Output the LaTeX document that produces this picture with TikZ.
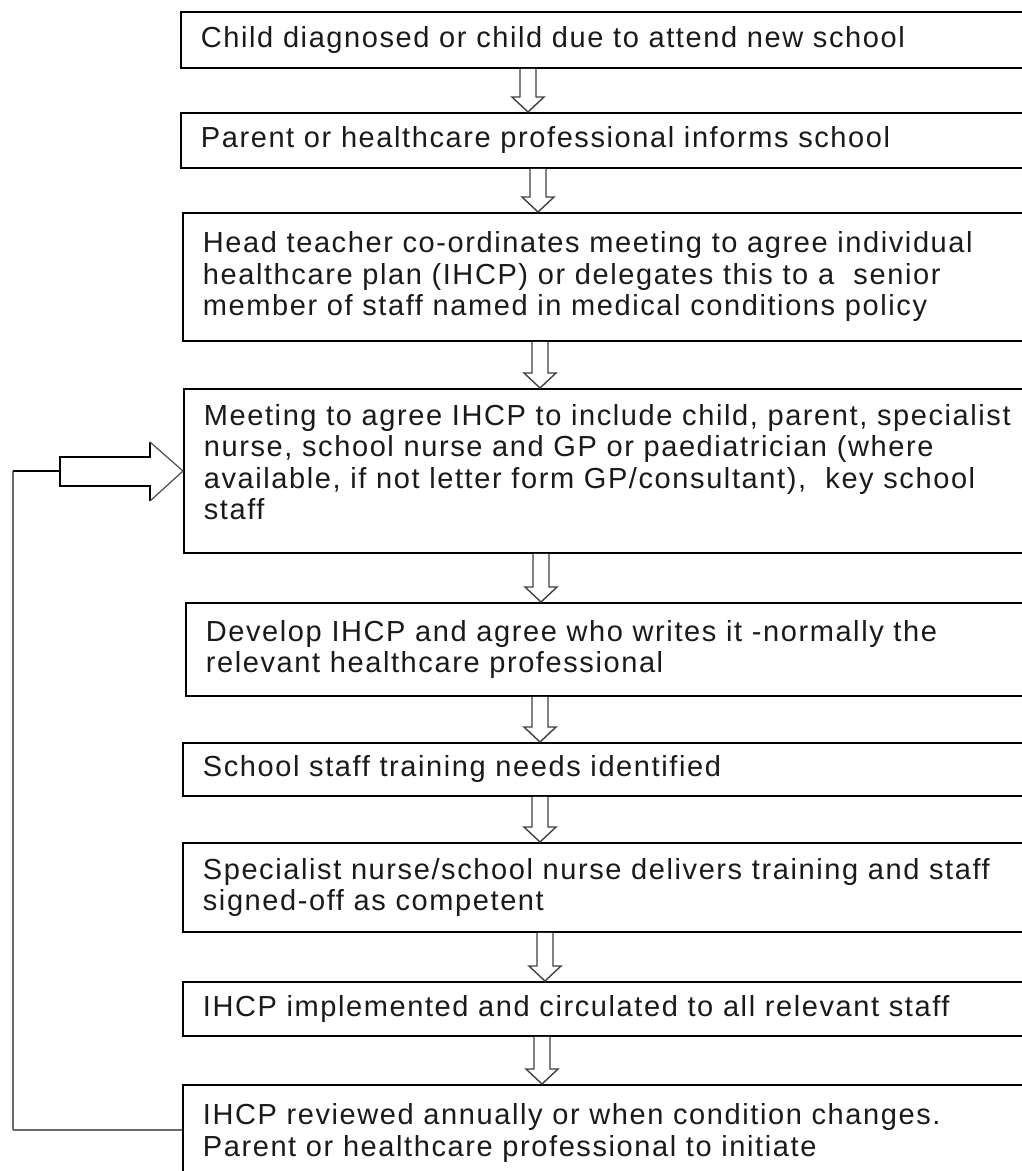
\documentclass[tikz,border=0pt]{standalone}
\usepackage{fontspec}
\setmainfont{Liberation Sans}[LetterSpace=5.5]
\usetikzlibrary{calc}
\definecolor{txt}{HTML}{1A1A1A}
\definecolor{fb}{HTML}{6A6A6A}
\newcommand\boxfont{\fontsize{29}{31.5}\selectfont\spaceskip=0.47em plus 0.1em\relax}
\tikzset{
  box/.style={draw=black, line width=1.8pt, anchor=north west, align=left,
    inner xsep=20pt, inner ysep=0pt, text width=840pt, text=txt,
    font=\boxfont},
  blockline/.style={draw=black!75, line width=1.4pt, fill=white, line join=miter},
}
% vertical hollow block arrow at x=#1 from node #2 (bottom) to node #3 (top)
\newcommand\varrow[3]{%
  \draw[blockline] let \p1=(#2.south), \p2=(#3.north) in
    (#1-8,\y1) -- (#1-8,\y2+15) -- (#1-16,\y2+15) -- (#1,\y2)
    -- (#1+16,\y2+15) -- (#1+8,\y2+15) -- (#1+8,\y1);}
\begin{document}
\begin{tikzpicture}[x=1pt,y=1pt]
\useasboundingbox (0,0) rectangle (1022,-1171);
\clip (0,0) rectangle (1022,-1171);
\fill[white] (0,0) rectangle (1022,-1171);

\node[box, minimum height=56pt] (b1) at (180,-11) {Child diagnosed or child due to attend new school};
\node[box, minimum height=55pt] (b2) at (180,-112) {Parent or healthcare professional informs school};
\node[box, minimum height=128pt] (b3) at (182,-212) {Head teacher co-ordinates meeting to agree individual\\healthcare plan (IHCP) or delegates this to a\ \ senior\\member of staff named in medical conditions policy};
\node[box, minimum height=164pt] (b4) at (183,-388) {Meeting to agree IHCP to include child, parent, specialist\\nurse, school nurse and GP or paediatrician (where\\available, if not letter form GP/consultant),\ \ key school\\staff\\[-14pt]\null};
\node[box, minimum height=93pt] (b5) at (185,-602) {Develop IHCP and agree who writes it -normally the\\relevant healthcare professional};
\node[box, minimum height=53pt] (b6) at (182,-742) {School staff training needs identified};
\node[box, minimum height=89pt] (b7) at (182,-842) {Specialist nurse/school nurse delivers training and staff\\signed-off as competent};
\node[box, minimum height=54pt] (b8) at (182,-981) {IHCP implemented and circulated to all relevant staff};
\node[box, minimum height=96pt] (b9) at (182,-1084) {IHCP reviewed annually or when condition changes.\\Parent or healthcare professional to initiate};

\varrow{528}{b1}{b2}
\varrow{538}{b2}{b3}
\varrow{540}{b3}{b4}
\varrow{541}{b4}{b5}
\varrow{540}{b5}{b6}
\varrow{540}{b6}{b7}
\varrow{545}{b7}{b8}
\varrow{542}{b8}{b9}

% feedback loop
\coordinate (fbA) at (13,-1130);
\coordinate (fbB) at (13,-471);
\coordinate (fbC) at (60,-471);
\draw[fb, line width=2.8pt] (b9.west |- 0,-1130) -- (fbA);
\draw[fb, line width=2.4pt] (fbA) -- (fbB);
\draw[black, line width=2pt] (fbB) -- (fbC);
\draw[line width=1.8pt, black, line join=miter]
  (150,-442) -- (150,-457) -- (60,-457) -- (60,-486) -- (150,-486) -- (150,-501);
\draw[line width=1.2pt, black!70] (150,-442) -- (b4.west |- 0,-471) -- (150,-501);
\end{tikzpicture}
\end{document}
